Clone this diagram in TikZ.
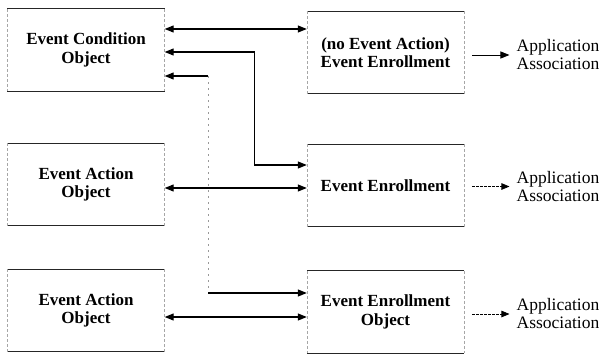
\documentclass[tikz,border=0pt]{standalone}
\usepackage{fontspec}
\setmainfont{Liberation Serif}
\usetikzlibrary{arrows.meta}
\tikzset{
  boxnode/.style={minimum width=157pt, minimum height=82pt, inner sep=0pt, align=center,
    font=\fontsize{17}{18.5}\selectfont\bfseries},
  aanode/.style={inner sep=0pt, align=center, font=\fontsize{17.5}{18}\selectfont},
  hedge/.style={line width=0.9pt, black!85},
  vedge/.style={line width=0.5pt, black!35, dash pattern=on 3pt off 2pt},
  conn/.style={line width=1.1pt, -{Triangle[length=9pt,width=7pt]}},
  dconn/.style={line width=1.1pt, {Triangle[length=9pt,width=7pt]}-{Triangle[length=9pt,width=7pt]}},
  faint/.style={line width=0.6pt, black!40, dash pattern=on 2pt off 4pt},
  lconn/.style={line width=0.8pt, dash pattern=on 3pt off 1pt, -{Triangle[length=8pt,width=6.5pt]}}
}
\begin{document}
\begin{tikzpicture}[x=1pt,y=-1pt]
\useasboundingbox (0,0) rectangle (603,354);
% boxes
\node[boxnode] (eco)  at (86,50)     {Event Condition\\Object};
\node[boxnode] (eao1) at (86,184.5)  {Event Action\\Object};
\node[boxnode] (eao2) at (86,310.5)  {Event Action\\Object};
\node[boxnode] (r1)   at (385.5,52.5) {(no Event Action)\\Event Enrollment};
\node[boxnode] (r2)   at (385.5,185.5) {Event Enrollment};
\node[boxnode] (r3)   at (385.5,312) {Event Enrollment\\Object};
\foreach \n in {eco,eao1,eao2,r1,r2,r3}{
  \draw[hedge] (\n.north west) -- (\n.north east) (\n.south west) -- (\n.south east);
  \draw[vedge] (\n.north west) -- (\n.south west) (\n.north east) -- (\n.south east);
}
% application associations
\node[aanode] (aa1) at (558,55)  {Application\\Association};
\node[aanode] (aa2) at (558,187) {Application\\Association};
\node[aanode] (aa3) at (558,314) {Application\\Association};
% connectors
\draw[dconn] ([yshift=21pt]eco.east) -- ([yshift=21pt]eco.east -| r1.west);
\draw[dconn] ([yshift=-2pt]eco.east) -- ++(90,0) |- ([yshift=20.5pt]r2.west);
\coordinate (c3) at (208,76);
\coordinate (c4) at (208,293);
\draw[conn] (c3) -- (c3 -| eco.east);
\draw[faint] (c3) -- (c4);
\draw[conn] (c4) -- (c4 -| r3.west);
\draw[dconn] ([yshift=-3.5pt]eao1.east) -- ([yshift=-3.5pt]eao1.east -| r2.west);
\draw[dconn] ([yshift=-6.5pt]eao2.east) -- ([yshift=-6.5pt]eao2.east -| r3.west);
\draw[conn, line width=0.9pt, shorten <=8pt, shorten >=7pt] ([yshift=-2.5pt]r1.east) -- ([yshift=-2.5pt]r1.east -| aa1.west);
\draw[lconn, shorten <=8pt, shorten >=7pt] ([yshift=-1pt]r2.east) -- ([yshift=-1pt]r2.east -| aa2.west);
\draw[lconn, shorten <=8pt, shorten >=7pt] ([yshift=-2pt]r3.east) -- ([yshift=-2pt]r3.east -| aa3.west);
\end{tikzpicture}
\end{document}
